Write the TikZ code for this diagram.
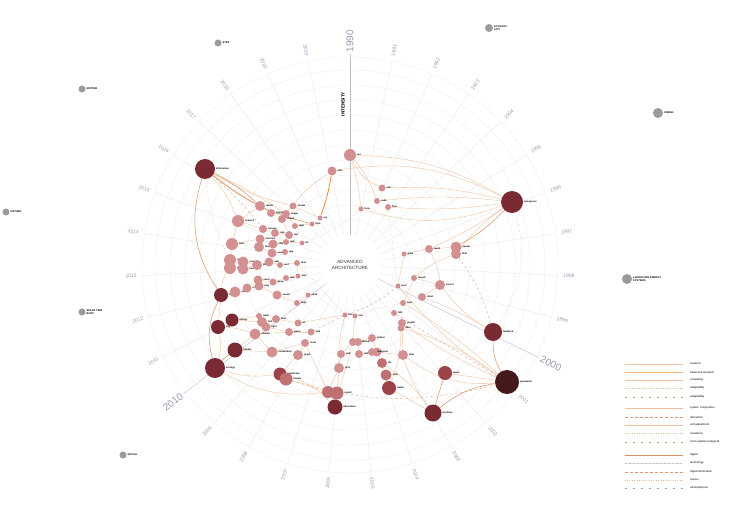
\documentclass[tikz,border=0pt]{standalone}
\usepackage{fontspec}
\setmainfont{Liberation Sans}
\usetikzlibrary{backgrounds}
\pgfdeclarelayer{grid}
\pgfsetlayers{grid,background,main}

\begin{document}
\begin{tikzpicture}[x=1pt, y=-1pt, line cap=round,
    dot/.style={circle, inner sep=0pt, draw=none},
    lbl/.style={font=\fontsize{2.4}{2.6}\selectfont\bfseries, inner sep=0.6pt, anchor=west, text=black},
    yr/.style={font=\fontsize{5}{5}\selectfont, text=cYear, inner sep=0.5pt},
    yrbig/.style={font=\fontsize{10}{10}\selectfont, text=cYear, inner sep=0.5pt},
    ln/.style={cEdge, line width=0.35pt},
    lnsoft/.style={cEdgeDk, line width=0.55pt},
    lndot/.style={cEdgeDk, line width=0.4pt, dotted},
    lndash/.style={cEdgeDk, line width=0.4pt, dash pattern=on 2pt off 3pt},
    lnor/.style={cOrange, line width=0.8pt},
    outer/.style={dot, fill=cOuter},
    otxt/.style={font=\fontsize{2.6}{2.8}\selectfont\bfseries, inner sep=0.8pt, anchor=west, align=left},
    lgtxt/.style={font=\fontsize{2.8}{3}\selectfont, inner sep=0pt, anchor=west}]
  \definecolor{cGrid}{RGB}{236,236,240}
  \definecolor{cRing}{RGB}{242,240,242}
  \definecolor{cSpoke}{RGB}{196,198,208}
  \definecolor{cYear}{RGB}{150,156,180}
  \definecolor{cPink}{RGB}{210,144,144}
  \definecolor{cRose}{RGB}{192,112,115}
  \definecolor{cRed}{RGB}{156,66,72}
  \definecolor{cMaroon}{RGB}{122,42,50}
  \definecolor{cDeep}{RGB}{68,25,27}
  \definecolor{cEdge}{RGB}{242,192,155}
  \definecolor{cEdgeDk}{RGB}{218,155,115}
  \definecolor{cOrange}{RGB}{232,140,70}
  \definecolor{cOuter}{RGB}{155,155,155}

  \useasboundingbox (0,0) rectangle (730,516);
  \coordinate (c) at (350,265);

  % polar grid
  \begin{pgfonlayer}{grid}
    \fill[white] (0,0) rectangle (730,516);
    \foreach \r in {45,60,...,195,208}
      \draw[cRing, line width=0.4pt] (c) circle[radius=\r];
    \foreach \i in {0,...,30}{
      \pgfmathsetmacro\a{\i*360/31-90}
      \pgfmathtruncatemacro\yy{1990+\i}
      \pgfmathsetmacro\cs{cos(\a)}
      \pgfmathsetmacro\rot{\cs>=-0.01 ? -\a : 180-\a}
      \pgfmathtruncatemacro\dec{and(mod(\i,10)==0, \i<30)}
      \ifdim\cs pt<-0.01pt \def\anc{east}\else\def\anc{west}\fi
      \ifnum\dec=1
        \draw[cSpoke, line width=0.45pt] ([shift={(\a:31)}]c) -- ([shift={(\a:211)}]c);
        \node[yrbig, anchor=\anc, rotate=\rot] (y\i) at ([shift={(\a:212)}]c) {\yy};
      \else
        \draw[cGrid, line width=0.45pt] ([shift={(\a:31)}]c) -- ([shift={(\a:208)}]c);
        \node[yr, anchor=\anc, rotate=\rot] (y\i) at ([shift={(\a:213)}]c) {\yy};
      \fi
    }
    \draw[gray!60, line width=0.4pt, dotted] ([shift={(-90:31)}]c) -- ([shift={(-90:205)}]c);
    \fill[white] (c) circle[radius=30];
  \end{pgfonlayer}

  \node[font=\fontsize{4.6}{5.4}\selectfont, align=center, text=black!80] (title) at (c) {ADVANCED\\ARCHITECTURE};
  \node[font=\fontsize{4.6}{5}\selectfont\bfseries, rotate=90] (axis) at (343,104) {INTENSITY};

  % nodes: name/x/y/radius/colour/label
  \foreach \n/\x/\y/\s/\c/\t in {
      a1/350/155/6/cPink/net, a2/332/171/4.5/cPink/skin, a3/382/188/3.5/cPink/cell,
      a4/377/201/3/cPink/code, a5/388/207/3/cPink/flow, a6/361/209/2.5/cPink/loop,
      a7/512/202/11/cMaroon/emergence,
      b1/456/247/5.5/cPink/swarm, b2/456/254/5/cPink/field, b3/429/249/4/cPink/mesh,
      b4/404/254/2.5/cPink/grain, b5/414/278/3/cPink/morph, b6/440/285/5/cPink/sensor,
      b7/398/286/2.5/cPink/knot, b8/422/297/4/cPink/robot, b9/403/303/3/cPink/layer,
      b10/394/313/3/cPink/fold, b11/402/323/4/cPink/growth, b12/401/328/3.5/cPink/fibre,
      b13/493/332/9/cMaroon/feedback, b14/507/382/12/cDeep/parametric, b15/445/373/7/cRed/agent,
      b16/433/413/8.5/cMaroon/interface,
      c1/403/355/5/cPink/data, c2/389/388/7/cRed/matter, c3/386/375/5.5/cRose/shell,
      c4/382/363/5/cRose/tile, c5/377/352/4.5/cPink/pixel, c6/372/352/4/cPink/node,
      c7/372/338/4/cPink/pattern, c8/353/342/4/cPink/voxel, c9/358/342/4/cPink/cloud,
      c10/341/354/4/cPink/path, c11/359/354/4/cPink/unit, c12/339/368/5/cPink/print,
      c13/328/392/6/cRose/script, c14/337/393/6.5/cRose/model, c15/335/407/7.5/cMaroon/fabrication,
      c16/345/315/2.5/cPink/link, c17/355/316/2.5/cPink/rule, c18/305/343/4/cPink/noise,
      c19/298/355/5/cPink/graph, c20/280/374/6.5/cRed/membrane, c21/286/379/6.5/cRose/texture,
      d1/215/368/10/cMaroon/ecology, d2/235/350/7.5/cMaroon/habitat, d3/218/327/7/cMaroon/city,
      d4/232/320/6.5/cMaroon/energy, d5/255/334/5.5/cPink/climate, d6/259/316/3/cPink/water,
      d7/262/322/5/cPink/soil, d8/266/327/4.5/cPink/light, d9/276/319/4/cPink/heat,
      d10/272/352/5.5/cPink/metabolism, d11/289/332/4/cPink/waste, d12/298/323/3.5/cPink/air,
      d13/311/332/3.5/cPink/void,
      e1/221/295/7/cMaroon/society, e2/235/292/5.5/cPink/user, e3/247/288/4.5/cPink/crowd,
      e4/258/280/4.5/cPink/event, e5/259/286/4.5/cPink/play, e6/273/282/3.5/cPink/game,
      e7/286/278/3/cPink/map, e8/277/295/4.5/cPink/sound, e9/297/303/3/cPink/body,
      e10/308/295/2.5/cPink/mind, e11/230/260/6/cPink/space, e12/230/268/6/cPink/place,
      e13/243/262/5.5/cPink/room, e14/243/269/5.5/cPink/house, e15/257/265/5/cPink/plan,
      e16/269/262/4.5/cPink/wall, e17/280/265/3/cPink/roof, e18/297/263/3/cPink/door,
      e19/298/276/2.5/cPink/stair, e20/232/244/6/cPink/tools, e21/260/239/4.5/cPink/machine,
      e22/259/247/5/cPink/device, e23/273/244/4.5/cPink/chip, e24/272/253/4.5/cPink/screen,
      e25/286/242/3/cPink/web, e26/285/252/3/cPink/app, e27/302/243/2.5/cPink/bit,
      f1/205/169/10/cMaroon/information, f2/260/206/5/cPink/media, f3/238/221/6/cPink/network,
      f4/271/213/4/cPink/signal, f5/293/206/3.5/cPink/stream, f6/286/214/4/cPink/image,
      f7/282/219/4/cPink/virtual, f8/295/226/3/cPink/digit, f9/312/224/2.5/cPink/byte,
      f10/320/218/2.5/cPink/ray, f11/263/229/4/cPink/camera, f12/275/233/4/cPink/sign,
      f13/289/235/4/cPink/text}
  {
    \node[dot, fill=\c, minimum size=2*\s] (\n) at (\x,\y) {};
    \node[lbl] (\n-t) at (\n.east) {\t};
  }

  % outer categories
  \foreach \n/\x/\y/\s/\t in {
      o1/218/43/3.5/STEP, o2/489/28/4/ECOLOGY\\CITY, o3/658/113/5/URBAN,
      o4/627/279/5/LANDSCAPE ENERGY\\SYSTEMS, o5/82/89/3.5/MATTER, o6/6/212/3.5/NATURE,
      o7/82/312/3.5/SPACE TIME\\BODY, o8/123/455/3.5/SOCIAL}
  {
    \node[outer, minimum size=2*\s] (\n) at (\x,\y) {};
    \node[otxt] (\n-t) at (\n.east) {\t};
  }

  % links
  \begin{pgfonlayer}{background}
    \foreach \u/\v/\b in {
        a1/a3/-20, a1/a4/10, a1/a6/5, a3/a7/8, a4/a7/6, a5/a7/-6, a6/a7/-18, a1/a7/14,
        a2/a7/18, a7/b2/-8, a7/b3/5, b1/b3/0, b3/b4/0, b2/b5/-10, b3/b6/10, b5/b6/0, b4/b7/0,
        b6/b8/0, b5/b9/0, b6/b13/-10, b8/b13/5, b7/b14/-8, b9/b14/5, b11/b14/-5,
        b12/b14/10, b15/b14/0, c1/b14/-20, b16/c1/10, b16/c4/-10, b16/c2/0,
        c2/c3/0, c3/c4/0, c4/c5/0, c5/c7/0, c7/c9/0, c2/b12/-10, c1/b11/0, c1/c5/0,
        c14/c12/0, c13/c12/0, c12/c10/0, c10/c8/0, c11/c9/0, c12/c16/8, c14/c17/-8,
        c13/c18/0, c15/c20/-15, c21/c13/0, c19/c20/0, c18/c19/0, c6/c11/0,
        d2/d5/0, d1/d3/-15, d3/d4/0, d4/d6/0, d5/d10/0, d2/d10/0, d1/c20/-12,
        d3/e1/0, d4/d7/0, d7/d9/0, d9/d12/0, d11/d13/0, d10/c18/0, d1/c13/-18,
        d5/d11/0, d8/d11/0, d12/c16/0, d3/d5/8,
        e1/e2/0, e2/e3/0, e3/e4/0, e4/e6/0, e6/e7/0, e5/e8/0, e8/e9/0, e9/e10/0,
        e11/e13/0, e13/e15/0, e15/e16/0, e16/e17/0, e17/e18/0, e12/e14/0, e14/e15/0,
        e20/e21/0, e21/e23/0, e23/e25/0, e25/e27/0, e22/e24/0, e24/e26/0, e20/e11/0,
        f3/e20/0, f3/f11/0, f11/f12/0, f12/f13/0, f2/f4/0, f4/f6/0, f6/f8/0, f8/f9/0,
        f5/f10/0, f7/f13/0, e1/e12/15, e18/e19/0, e7/e19/0, e3/e5/0,
        f1/f2/-5, f1/f3/10, f1/f5/-8, f1/f4/-3, f1/f6/4, a2/f6/-10, f2/f3/0}
      \draw[ln] (\u) to[bend left=\b] (\v);
    \foreach \u/\v/\b in {
        f1/e1/-25, f1/f9/-12, a7/b1/8, b13/b14/-15, b16/b14/15, d1/d2/5,
        d1/e1/20, c15/c14/5, b15/b16/0, f1/f2/8, c15/c13/-10}
      \draw[lnsoft] (\u) to[bend left=\b] (\v);
    \foreach \u/\v/\b in {
        a7/b13/25, a5/b7/0, e18/c16/0, f1/e11/-10, c17/b9/5, e27/a6/-10}
      \draw[lndot] (\u) to[bend left=\b] (\v);
    \foreach \u/\v/\b in {
        c21/b14/-15, b2/b13/10, b10/b14/0, c16/b7/-10, f1/f11/5, d13/c16/0}
      \draw[lndash] (\u) to[bend left=\b] (\v);
    \draw[lnor] (a2) to[bend left=5] (f10);
  \end{pgfonlayer}

  % legend
  \foreach \k/\yy/\st/\t in {
      1/364/{cEdge, line width=0.6pt}/systemic,
      2/372/{cEdge!80!orange, line width=0.5pt}/advanced research,
      3/380/{cEdge, line width=0.5pt}/complexity,
      4/388/{cEdgeDk, line width=0.4pt, dotted}/adaptability,
      5/397/{cEdgeDk, line width=0.4pt, dash pattern=on 2pt off 6pt}/adaptability,
      6/408/{cEdge, line width=0.5pt}/system composition,
      7/417/{cEdgeDk, line width=0.4pt, densely dashed}/interaction,
      8/425/{cEdge, line width=0.5pt}/self-adjustment,
      9/433/{cEdgeDk, line width=0.4pt, dotted}/resistance,
      10/442/{cEdgeDk, line width=0.4pt, dash pattern=on 2pt off 6pt}/socio-spatial ecological,
      11/455/{cEdgeDk!80!brown, line width=0.7pt}/digital,
      12/463/{gray!70, line width=0.35pt, densely dotted}/technology,
      13/472/{cEdgeDk, line width=0.4pt, densely dashed}/digital information,
      14/480/{cEdgeDk, line width=0.4pt, dotted}/reason,
      15/488/{gray!70, line width=0.4pt, dash pattern=on 2pt off 6pt}/atmospherical}
  {
    \expandafter\draw\expandafter[\st] (625,\yy) -- (683,\yy);
    \node[lgtxt] (lg\k) at (690,\yy) {\t};
  }
\end{tikzpicture}
\end{document}
